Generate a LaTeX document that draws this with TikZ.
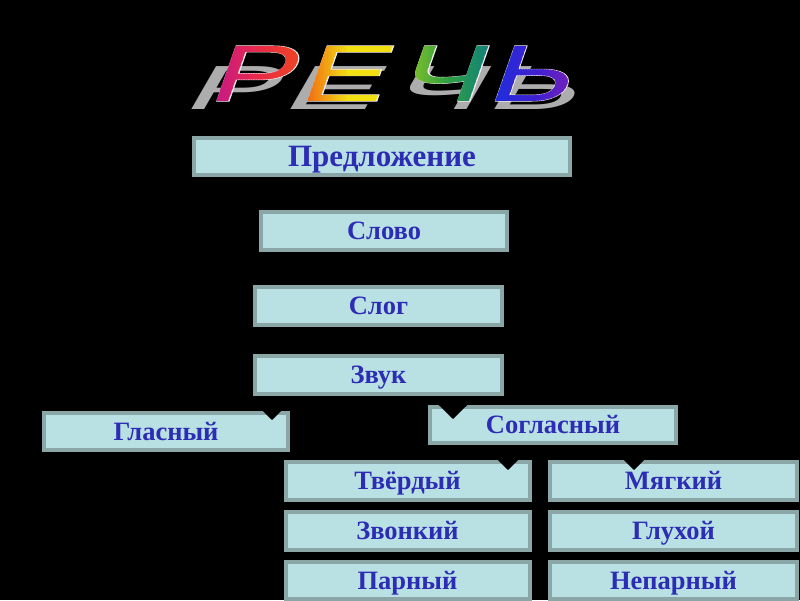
\documentclass[tikz,border=0pt]{standalone}
\usepackage{fontspec}
\setmainfont{Liberation Serif}
\newfontfamily\titlefont{Liberation Sans}
\newfontfamily\titlefontfat[FakeBold=1.2]{Liberation Sans}
\usetikzlibrary{arrows.meta,calc}

\definecolor{boxfill}{HTML}{B9E1E4}
\definecolor{boxline}{HTML}{8AA6A6}
\definecolor{txtblue}{HTML}{2C2CB4}
\definecolor{shadowgray}{HTML}{ADADAD}
\definecolor{rimcol}{HTML}{F4ECF0}
\definecolor{rb0}{HTML}{B8149E}
\definecolor{rb1}{HTML}{E8284C}
\definecolor{rb2}{HTML}{F04A18}
\definecolor{rb3}{HTML}{F2E012}
\definecolor{rb4}{HTML}{A8D020}
\definecolor{rb5}{HTML}{30A040}
\definecolor{rb6}{HTML}{0A7A8A}
\definecolor{rb7}{HTML}{1830E0}
\definecolor{rb8}{HTML}{4020D0}
\definecolor{rb9}{HTML}{9020B0}

\newcommand{\titlesize}{\fontsize{80}{80}\selectfont}
% the title word with its letters set at fixed centres
\newcommand{\rechword}{\makebox[57.6pt][c]{Р}\makebox[57.6pt][c]{Е}\makebox[66.4pt][c]{Ч}\makebox[46.2pt][c]{Ь}}

\tikzset{
  box/.style={draw=boxline, line width=4pt, fill=boxfill, text=txtblue,
    font=\bfseries\fontsize{26.5}{26.5}\selectfont, inner sep=0,
    text height=17pt, text depth=0pt, anchor=center},
  bigbox/.style={box, font=\bfseries\fontsize{31}{31}\selectfont, text height=20pt},
  conn/.style={draw=black, line width=2.5pt},
  arr/.style={conn, -{Triangle[width=28pt,length=14pt]}},
  titleletter/.style={font=\titlefont\titlesize, inner sep=0, anchor=center,
    cm={1.58,0,0.35,1,(0,0)}},
  rimword/.style={titleletter, font=\titlefontfat\titlesize, text=rimcol},
  shadowword/.style={text=shadowgray, font=\titlefont\titlesize, inner sep=0, anchor=center,
    cm={1.72,0,0.45,0.78,(0,0)}}
}

\begin{document}
\begin{tikzpicture}[x=1pt, y=-1pt]
  \useasboundingbox (0,0) rectangle (800,600);
  \fill[black] (0,0) rectangle (800,600);

  % title shadow, laid flat below the word
  \node[shadowword] (titleshadow) at (385,88) {\rechword};
  % light rim of the title letters
  \node[rimword] (title) at (393,73.5) {\rechword};
  % rainbow title, each letter painted strip by strip
  \foreach \l/\px/\xa/\xb/\ca/\cm/\cb in {Р/258.5/200/310/rb0/rb1/rb2,
      Е/349.5/296/402/rb2/rb3/rb3, Ч/447.5/394/500/rb4/rb5/rb6,
      Ь/536.5/486/590/rb7/rb8/rb9}{
    \pgfmathtruncatemacro{\n}{ceil((\xb-\xa)/2.5)}
    \foreach \i in {1,...,\n}{
      \pgfmathsetmacro{\sx}{\xa+(\i-1)*(\xb-\xa)/\n}
      \pgfmathsetmacro{\ex}{\xa+\i*(\xb-\xa)/\n+0.4}
      \pgfmathtruncatemacro{\p}{200*(\i-0.5)/\n}
      \pgfmathtruncatemacro{\q}{\p-100}
      \ifnum\p<100
        \colorlet{stripcol}{\cm!\p!\ca}
      \else
        \colorlet{stripcol}{\cb!\q!\cm}
      \fi
      \begin{scope}
        \clip (\sx,30) rectangle (\ex,115);
        \node[titleletter, text=stripcol] at (\px,73.5) {\l};
      \end{scope}
    }
  }

  % boxes
  \node[bigbox, minimum width=376pt, minimum height=37pt] (pred)  at (382,156.5) {Предложение};
  \node[box, minimum width=246pt, minimum height=38pt] (slovo) at (384,231)   {Слово};
  \node[box, minimum width=247pt, minimum height=38pt] (slog)  at (378.5,306) {Слог};
  \node[box, minimum width=247pt, minimum height=38pt] (zvuk)  at (378.5,375) {Звук};
  \node[box, minimum width=244pt, minimum height=37pt] (glas)  at (166,431.5) {Гласный};
  \node[box, minimum width=246pt, minimum height=36pt] (sogl)  at (553,425)   {Согласный};
  \node[box, minimum width=244pt, minimum height=38pt] (tverd) at (407.5,481) {Твёрдый};
  \node[box, minimum width=247pt, minimum height=38pt] (myagk) at (673.5,481) {Мягкий};
  \node[box, minimum width=244pt, minimum height=38pt] (zvon)  at (407.5,531) {Звонкий};
  \node[box, minimum width=247pt, minimum height=38pt] (gluh)  at (673.5,531) {Глухой};
  \node[box, minimum width=244pt, minimum height=37pt] (parn)  at (407.5,580.5) {Парный};
  \node[box, minimum width=247pt, minimum height=37pt] (nepar) at (673.5,580.5) {Непарный};

  % connectors
  \draw[conn, shorten >=3pt] (slovo.north |- pred.south) -- (slovo.north);
  \draw[conn, shorten >=3pt] (slog.north |- slovo.south) -- (slog.north);
  \draw[conn, shorten >=3pt] (zvuk.north |- slog.south) -- (zvuk.north);

  \coordinate (a1) at (272,420);
  \coordinate (a2) at (453,419);
  \coordinate (a3) at (508,470);
  \coordinate (a4) at (634,470);
  \draw[arr] (a1 |- zvuk.south) -- (a1);
  \draw[arr] (a2 |- zvuk.south) -- (a2);
  \draw[arr] (a3 |- sogl.south) -- (a3);
  \draw[arr] (a4 |- sogl.south) -- (a4);
\end{tikzpicture}
\end{document}
